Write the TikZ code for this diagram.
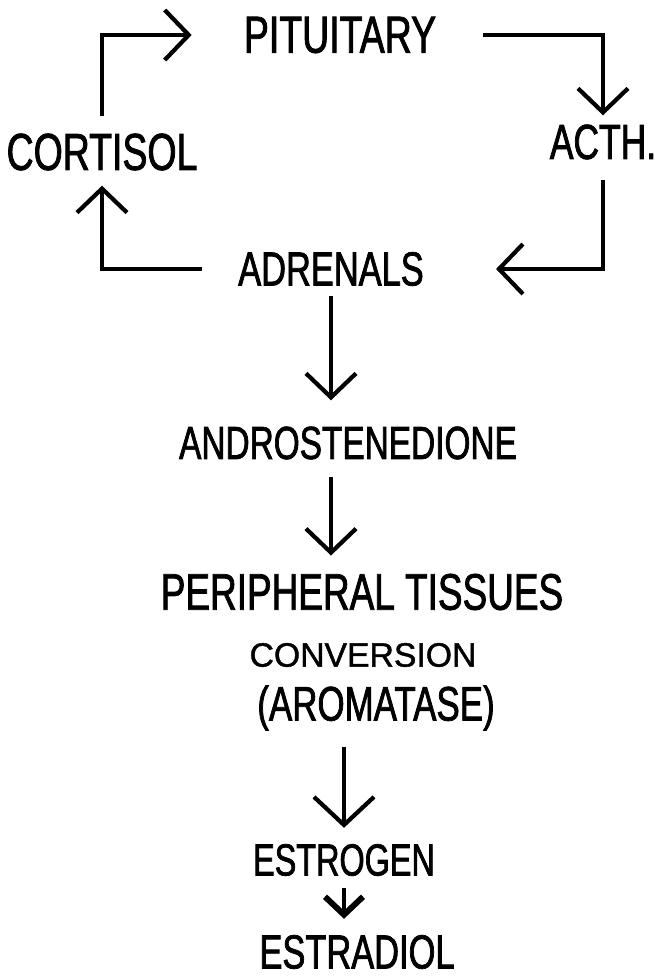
\documentclass[tikz,border=0pt]{standalone}
\usepackage{fontspec}
\newfontfamily\hormfont[FakeStretch=0.72, FakeBold=1.5]{Liberation Sans}
\newfontfamily\notefont[FakeBold=1.2]{Liberation Sans}
\newcommand\hormsize[1]{\hormfont\fontsize{#1}{#1}\selectfont}
\usepackage{tikz}
\usetikzlibrary{arrows.meta,positioning}

\begin{document}
\begin{tikzpicture}[
  every node/.style={inner sep=0pt, font=\hormsize{34}},
  arr/.style={line width=2.8pt, -{Straight Barb[length=0.6cm, width=1.25cm, line width=3pt]}},
  bigarr/.style={line width=2.8pt, -{Straight Barb[length=0.7cm, width=1.5cm, line width=3pt]}},
  smallarr/.style={line width=3.2pt, -{Straight Barb[length=0.45cm, width=0.95cm, line width=4.2pt]}},
]
  \useasboundingbox (0,0) rectangle (16.375,-24.45);
  % Feedback loop
  \node[font=\hormsize{37}] (pit) at (8.5,-0.875) {PITUITARY};
  \node[font=\hormsize{37}] (cort) at (2.55,-3.8) {CORTISOL};
  \node[font=\hormsize{35}] (acth) at (15.075,-3.55) {ACTH.};
  \node[font=\hormsize{34}] (adr) at (8.275,-6.725) {ADRENALS};
  \draw[arr, shorten <=0.425cm, shorten >=1.3cm] (cort) |- (pit);
  \draw[arr, shorten <=1.175cm, shorten >=0.225cm] (pit) -| (acth);
  \draw[arr, shorten <=0.5cm, shorten >=1.8cm] (acth) |- (adr);
  \draw[arr, shorten <=0.9cm, shorten >=0.375cm] (adr) -| (cort);
  % Conversion chain
  \node[font=\hormsize{33}] (andro) at (8.7,-11.075) {ANDROSTENEDIONE};
  \node[font=\hormsize{36.5}] (peri) at (9.05,-14.8) {PERIPHERAL TISSUES};
  \node[font=\notefont\fontsize{24}{24}\selectfont] (conv) at (9.075,-16.375) {CONVERSION};
  \node[font=\hormsize{34.5}] (arom) at (9.4,-17.7) {(AROMATASE)};
  \node[font=\hormsize{32}] (estrog) at (8.6,-21.5) {ESTROGEN};
  \node[font=\hormsize{34}] (estrad) at (8.925,-23.8) {ESTRADIOL};
  \draw[arr, shorten <=0.25cm, shorten >=0.65cm] (adr) -- (adr |- andro.north);
  \draw[arr, shorten <=0.425cm, shorten >=0.45cm] (andro.south -| adr) -- (peri.north -| adr);
  \draw[bigarr, shorten <=0.4cm, shorten >=0.4cm] (arom.south -| estrog) -- (estrog);
  \draw[smallarr, shorten <=0.3cm, shorten >=0.4cm] (estrog) -- (estrog |- estrad.north);
\end{tikzpicture}
\end{document}
